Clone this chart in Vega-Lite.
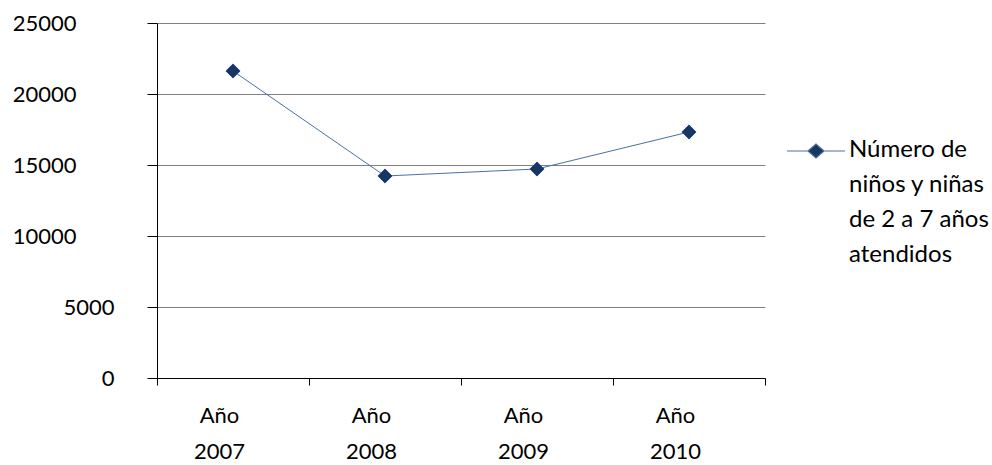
{
  "$schema": "https://vega.github.io/schema/vega-lite/v6.json",
  "autosize": {"type": "none"},
  "width": 608,
  "height": 355,
  "padding": {"left": 157, "top": 23, "right": 227, "bottom": 87},
  "background": "white",
  "config": {
    "font": "Lato",
    "view": {"stroke": null},
    "axis": {"labelFont": "Lato", "labelFontSize": 22, "labelColor": "#000000"}
  },
  "data": {
    "values": [
      {"year": "2007", "value": 21620, "serie": "Número de|niños y niñas|de 2 a 7 años|atendidos"},
      {"year": "2008", "value": 14225, "serie": "Número de|niños y niñas|de 2 a 7 años|atendidos"},
      {"year": "2009", "value": 14718, "serie": "Número de|niños y niñas|de 2 a 7 años|atendidos"},
      {"year": "2010", "value": 17324, "serie": "Número de|niños y niñas|de 2 a 7 años|atendidos"}
    ]
  },
  "encoding": {
    "x": {
      "field": "year", "type": "nominal", "sort": null,
      "scale": {"type": "band", "paddingInner": 0, "paddingOuter": 0},
      "axis": {
        "title": null, "labelAngle": 0, "tickBand": "extent",
        "labelExpr": "datum.label ? ['Año', datum.label] : ''",
        "labelLineHeight": 36, "labelPadding": 20, "labelOffset": -14,
        "tickSize": 7, "tickColor": "#000000", "domainColor": "#000000",
        "grid": false
      }
    },
    "y": {
      "field": "value", "type": "quantitative",
      "scale": {"domain": [0, 25000], "nice": false},
      "axis": {
        "title": null, "values": [0, 5000, 10000, 15000, 20000, 25000], "format": "d",
        "labelExpr": "datum.label == '5000' ? '5000\u00a0\u00a0\u00a0\u00a0\u00a0\u00a0\u00a0' : datum.label",
        "tickSize": 10,
        "labelPadding": {"condition": {"test": "datum.value < 7500", "value": 33}, "value": 71},
        "tickColor": "#000000",
        "domainColor": "#000000", "gridColor": "#808080", "gridOpacity": 1
      }
    }
  },
  "layer": [
    {
      "mark": {"type": "line", "color": "#4A6FA5", "strokeWidth": 1},
      "encoding": {
        "color": {
          "field": "serie", "type": "nominal",
          "scale": {"range": ["#4A6FA5"]},
          "legend": {
            "title": null, "orient": "none", "legendX": 647, "legendY": 103,
            "symbolType": "M-2.9,1.3L-0.8,1.3M0.8,1.3L2.9,1.3M-0.8,1.3L0,0.6L0.8,1.3L0,2Z",
            "symbolSize": 400, "symbolFillColor": "#17375E", "symbolStrokeColor": "#4A6FA5",
            "symbolStrokeWidth": 1.2,
            "labelExpr": "split(datum.label, '|')",
            "labelFont": "Lato", "labelFontSize": 24, "labelColor": "#000000",
            "labelBaseline": "top", "labelOffset": 21,
            "labelLimit": 300,
            "encode": {"labels": {"update": {"lineHeight": {"value": 35}}}}
          }
        }
      }
    },
    {
      "mark": {"type": "point", "shape": "diamond", "filled": true, "size": 200,
               "fill": "#17375E", "stroke": "#2B3FB0", "strokeWidth": 1, "opacity": 1}
    }
  ]
}
